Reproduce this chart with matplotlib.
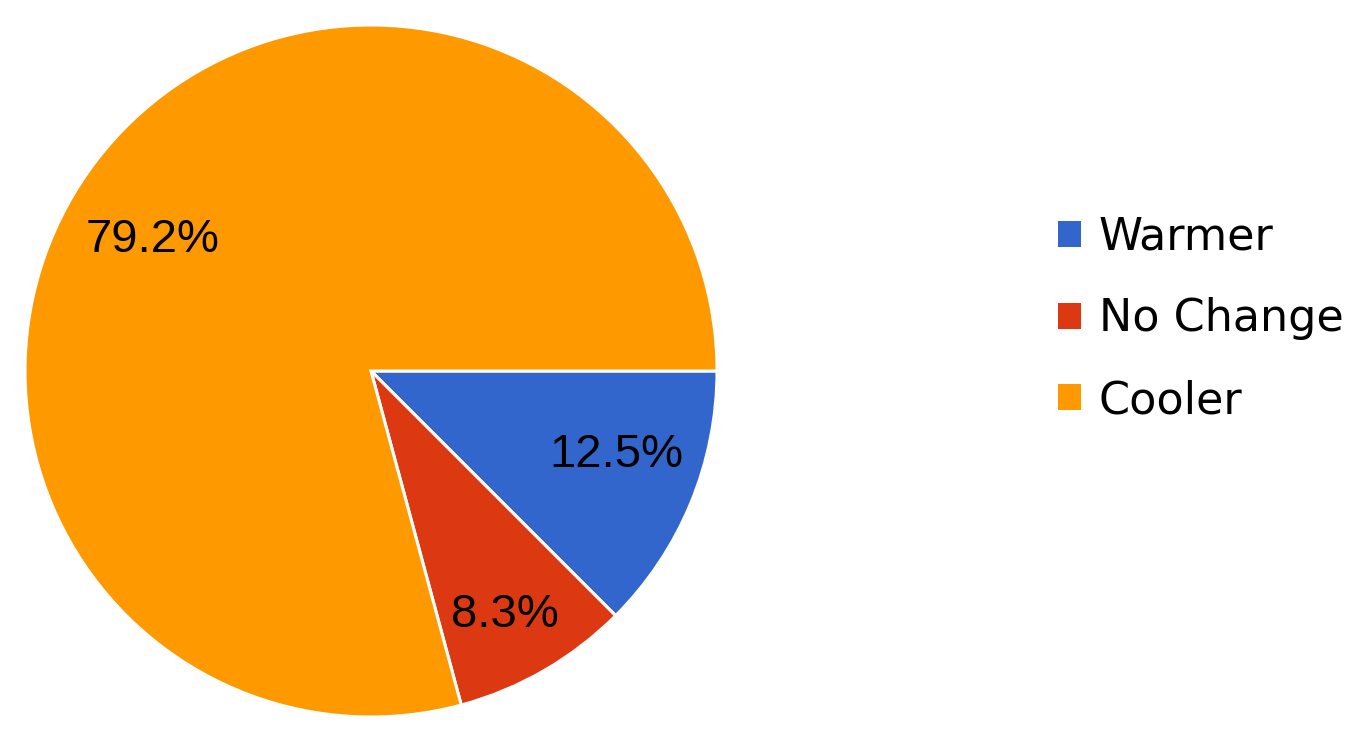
import matplotlib
matplotlib.use("Agg")
import matplotlib.pyplot as plt
from matplotlib.patches import Patch

categories = ["Warmer", "No Change", "Cooler"]
values = [12.5, 8.3, 79.2]
colors = ["#3366CC", "#DC3912", "#FF9900"]

plt.rcParams['font.family'] = ['Liberation Sans', 'DejaVu Sans']

fig = plt.figure(figsize=(13.64, 7.46), dpi=100)
ax = fig.add_axes([25/1364, 29/746, 692/1364, 692/746])
wedges, texts, autotexts = ax.pie(
    values, colors=colors, startangle=0, counterclock=False,
    autopct=lambda p: f"{p:.1f}%", pctdistance=0.76,
    wedgeprops=dict(edgecolor="white", linewidth=2.2),
    textprops=dict(fontsize=34, color="black"))
ax.set_aspect('equal')
ax.set_xlim(-1, 1)
ax.set_ylim(-1, 1)

# small label nudges to match reference placement
nudges = [(0.006, 0.049), (0.006, -0.046), (-0.029, -0.084)]
for t, (dx, dy) in zip(autotexts, nudges):
    x, y = t.get_position()
    t.set_position((x + dx, y + dy))

handles = [Patch(facecolor=c, edgecolor='none') for c in colors]
fig.legend(handles, categories, loc='center left', bbox_to_anchor=(1058/1364, 1 - 319/746),
           frameon=False, prop=dict(family='DejaVu Sans', size=32),
           handlelength=0.52, handleheight=0.52,
           handletextpad=0.4, labelspacing=0.87, borderpad=0, borderaxespad=0)

fig.savefig("out.png", dpi=100, facecolor="white")
